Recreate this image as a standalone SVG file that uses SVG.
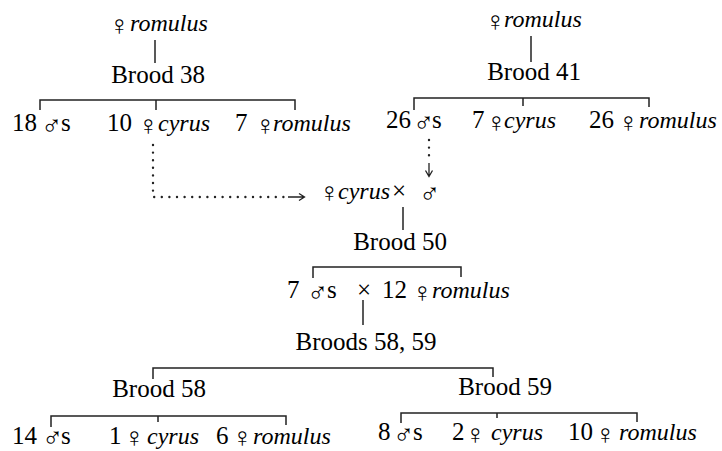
<svg xmlns="http://www.w3.org/2000/svg" width="722" height="451" viewBox="0 0 722 451">
<rect width="722" height="451" fill="#fff"/>
<g id="connectors" stroke="#222" fill="none" stroke-width="1.5">
<line x1="155" y1="40" x2="155" y2="63"/>
<path d="M40,110 V100 H295 V110 M156,100 V110"/>
<line x1="531" y1="36" x2="531" y2="62"/>
<path d="M414,110 V98 H649 V107 M523,98 V106"/>
<path d="M153,145 V197 H290" stroke-width="2.4" stroke-linecap="round" stroke-dasharray="0 7.6"/>
<path d="M288,197 H304 M299,193.5 L304.5,197 L299,200.5" stroke-width="1.3"/>
<path d="M429,140 V160" stroke-width="2.4" stroke-linecap="round" stroke-dasharray="0 7.6"/>
<path d="M429,163 V176 M425.5,170.5 L429,176.5 L432.5,170.5" stroke-width="1.3"/>
<line x1="403" y1="207" x2="403" y2="230"/>
<path d="M313,278 V267 H461 V277"/>
<line x1="363" y1="300" x2="363" y2="325"/>
<path d="M153,379 V368 H493 V377"/>
<path d="M51,427 V416 H286 V425 M158,416 V422"/>
<path d="M401,423 V413 H637 V422 M497,413 V418"/>
</g>
<g id="n_rom38"><text font-family="Liberation Serif" font-size="28" x="109" y="35">♀</text><text font-family="Liberation Serif" font-size="24" font-style="italic" x="130" y="31">romulus</text></g>
<g id="n_b38"><text font-family="Liberation Serif" font-size="25" x="158" y="83" text-anchor="middle">Brood 38</text></g>
<g id="n_m18"><text font-family="Liberation Serif" font-size="25" x="12" y="131">18</text><text font-family="Liberation Serif" font-size="28" x="41" y="135">♂</text><text font-family="Liberation Serif" font-size="25" x="61" y="131">s</text></g>
<g id="n_c10"><text font-family="Liberation Serif" font-size="25" x="107" y="131">10</text><text font-family="Liberation Serif" font-size="28" x="138" y="135">♀</text><text font-family="Liberation Serif" font-size="24" font-style="italic" x="158" y="131">cyrus</text></g>
<g id="n_r7"><text font-family="Liberation Serif" font-size="25" x="235" y="131">7</text><text font-family="Liberation Serif" font-size="28" x="255" y="135">♀</text><text font-family="Liberation Serif" font-size="24" font-style="italic" x="273" y="131">romulus</text></g>
<g id="n_rom41"><text font-family="Liberation Serif" font-size="28" x="485" y="31">♀</text><text font-family="Liberation Serif" font-size="24" font-style="italic" x="504" y="27">romulus</text></g>
<g id="n_b41"><text font-family="Liberation Serif" font-size="25" x="534" y="80" text-anchor="middle">Brood 41</text></g>
<g id="n_m26"><text font-family="Liberation Serif" font-size="25" x="386" y="128">26</text><text font-family="Liberation Serif" font-size="28" x="413" y="132">♂</text><text font-family="Liberation Serif" font-size="25" x="432" y="128">s</text></g>
<g id="n_c7"><text font-family="Liberation Serif" font-size="25" x="472" y="128">7</text><text font-family="Liberation Serif" font-size="28" x="486" y="132">♀</text><text font-family="Liberation Serif" font-size="24" font-style="italic" x="504" y="128">cyrus</text></g>
<g id="n_r26"><text font-family="Liberation Serif" font-size="25" x="589" y="128">26</text><text font-family="Liberation Serif" font-size="28" x="618" y="132">♀</text><text font-family="Liberation Serif" font-size="24" font-style="italic" x="639" y="128">romulus</text></g>
<g id="n_cross"><text font-family="Liberation Serif" font-size="28" x="319" y="202">♀</text><text font-family="Liberation Serif" font-size="24" font-style="italic" x="338" y="199">cyrus</text><text font-family="Liberation Serif" font-size="25" x="392" y="199">×</text><text font-family="Liberation Serif" font-size="28" x="419" y="203">♂</text></g>
<g id="n_b50"><text font-family="Liberation Serif" font-size="25" x="400" y="250" text-anchor="middle">Brood 50</text></g>
<g id="n_cross2"><text font-family="Liberation Serif" font-size="25" x="287" y="298">7</text><text font-family="Liberation Serif" font-size="28" x="307" y="302">♂</text><text font-family="Liberation Serif" font-size="25" x="327" y="298">s</text><text font-family="Liberation Serif" font-size="25" x="357" y="298">×</text><text font-family="Liberation Serif" font-size="25" x="382" y="298">12</text><text font-family="Liberation Serif" font-size="28" x="412" y="302">♀</text><text font-family="Liberation Serif" font-size="24" font-style="italic" x="432" y="298">romulus</text></g>
<g id="n_b5859"><text font-family="Liberation Serif" font-size="25" x="366" y="350" text-anchor="middle">Broods 58, 59</text></g>
<g id="n_b58"><text font-family="Liberation Serif" font-size="25" x="159" y="397" text-anchor="middle">Brood 58</text></g>
<g id="n_b59"><text font-family="Liberation Serif" font-size="25" x="505" y="395" text-anchor="middle">Brood 59</text></g>
<g id="n_m14"><text font-family="Liberation Serif" font-size="25" x="12" y="444">14</text><text font-family="Liberation Serif" font-size="28" x="42" y="447">♂</text><text font-family="Liberation Serif" font-size="25" x="61" y="444">s</text></g>
<g id="n_c1"><text font-family="Liberation Serif" font-size="25" x="109" y="444">1</text><text font-family="Liberation Serif" font-size="28" x="124" y="447">♀</text><text font-family="Liberation Serif" font-size="24" font-style="italic" x="147" y="444">cyrus</text></g>
<g id="n_r6"><text font-family="Liberation Serif" font-size="25" x="216" y="444">6</text><text font-family="Liberation Serif" font-size="28" x="232" y="447">♀</text><text font-family="Liberation Serif" font-size="24" font-style="italic" x="253" y="444">romulus</text></g>
<g id="n_m8"><text font-family="Liberation Serif" font-size="25" x="378" y="440">8</text><text font-family="Liberation Serif" font-size="28" x="393" y="444">♂</text><text font-family="Liberation Serif" font-size="25" x="413" y="440">s</text></g>
<g id="n_c2"><text font-family="Liberation Serif" font-size="25" x="452" y="440">2</text><text font-family="Liberation Serif" font-size="28" x="465" y="444">♀</text><text font-family="Liberation Serif" font-size="24" font-style="italic" x="491" y="440">cyrus</text></g>
<g id="n_r10"><text font-family="Liberation Serif" font-size="25" x="568" y="440">10</text><text font-family="Liberation Serif" font-size="28" x="595" y="444">♀</text><text font-family="Liberation Serif" font-size="24" font-style="italic" x="619" y="440">romulus</text></g>
</svg>
